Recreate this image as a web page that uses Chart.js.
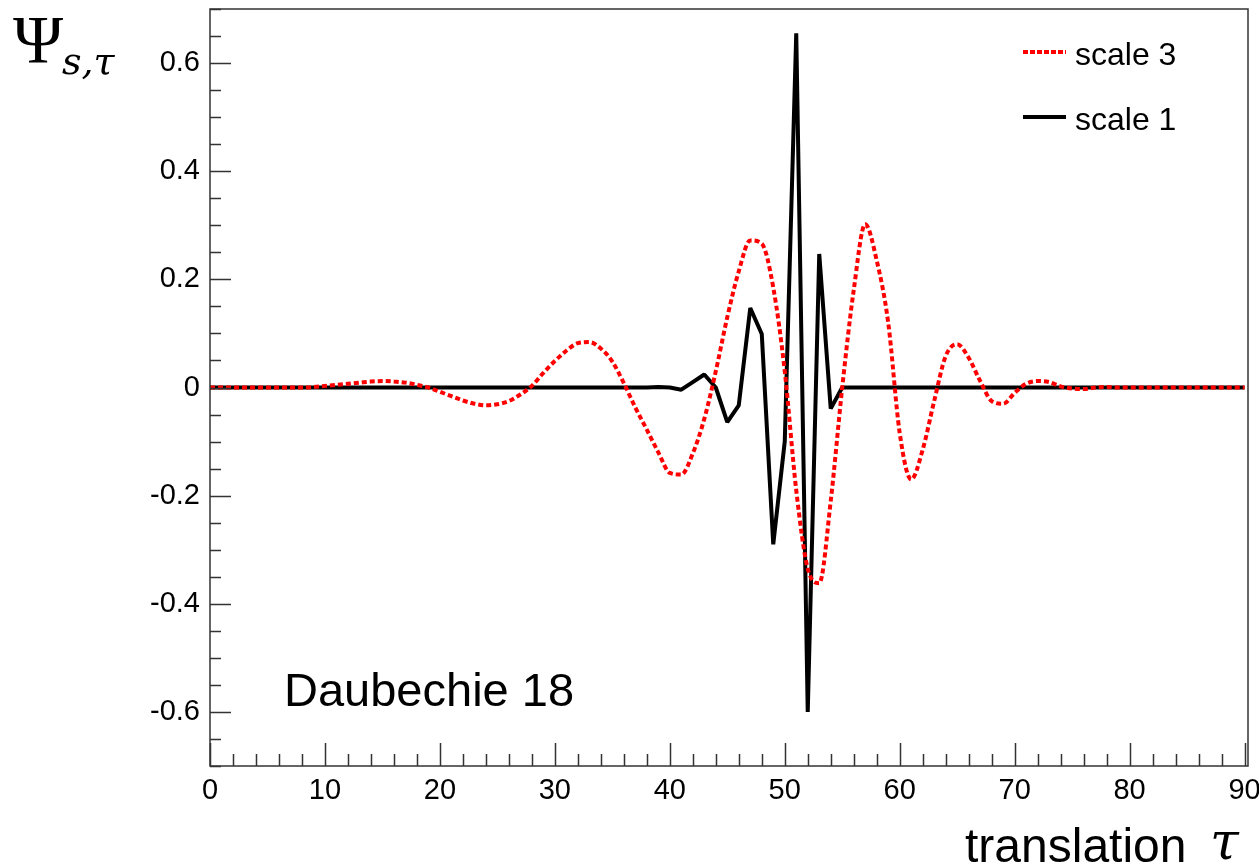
<!DOCTYPE html>
<html>
<head>
<meta charset="utf-8">
<script src="https://cdn.jsdelivr.net/npm/chart.js@4.4.0/dist/chart.umd.min.js"></script>
<style>
  body { margin: 0; background: #fff; }
  #wrap { position: relative; width: 1259px; height: 867px; }
  .t { position: absolute; line-height: 1; white-space: nowrap; color: #000; }
  .sans { font-family: "Liberation Sans", Arial, Helvetica, sans-serif; }
  .serif { font-family: "Liberation Serif", "DejaVu Serif", serif; }
  .dserif { font-family: "DejaVu Serif", serif; font-style: italic; }
  .key { position: absolute; height: 4px; width: 43px; }
</style>
</head>
<body>
<div id="wrap">
  <canvas id="chart" width="1259" height="867"></canvas>
  <div class="t serif" style="left:13px;top:5px;font-size:68px;">Ψ</div>
  <div class="t dserif" style="left:62px;top:42px;font-size:38px;">s,τ</div>
  <div class="t sans" style="left:284px;top:666px;font-size:47px;">Daubechie 18</div>
  <div class="t sans" style="left:965px;top:822px;font-size:48px;">translation</div>
  <div class="t dserif" style="left:1210px;top:815px;font-size:52px;">τ</div>
  <div class="key" style="left:1023px;top:50px;background:repeating-linear-gradient(to right,#f00 0 5px,transparent 5px 7px);"></div>
  <div class="t sans" style="left:1075px;top:38px;font-size:32px;">scale 3</div>
  <div class="key" style="left:1023px;top:115px;background:#000;"></div>
  <div class="t sans" style="left:1075px;top:103px;font-size:32px;">scale 1</div>
</div>
<script>
// translation tau (integer steps) and the two wavelet curves
const tau = Array.from({ length: 91 }, (_, i) => i);

const scale3 = [
  0, 0, 0, 0, 0, 0, 0, 0, 0, 0.001,
  0.003, 0.005, 0.007, 0.009, 0.011, 0.012, 0.011, 0.009, 0.005, 0.0,
  -0.008, -0.016, -0.024, -0.030, -0.033, -0.031, -0.025, -0.013, 0.003, 0.027,
  0.049, 0.068, 0.082, 0.084, 0.072, 0.048, 0.008, -0.037, -0.078, -0.12,
  -0.158, -0.161, -0.122, -0.058, 0.03, 0.13, 0.215, 0.272, 0.266, 0.185,
  0.03, -0.19, -0.335, -0.362, -0.21, 0.0, 0.18, 0.302, 0.235, 0.12,
  -0.084, -0.17, -0.115, -0.025, 0.058, 0.08, 0.055, 0.012, -0.025, -0.03,
  -0.01, 0.007, 0.012, 0.01, 0.002, -0.002, -0.003, 0.0, 0.001, 0.0,
  0, 0, 0, 0, 0, 0, 0, 0, 0, 0,
  0
];

const scale1 = [
  0, 0, 0, 0, 0, 0, 0, 0, 0, 0,
  0, 0, 0, 0, 0, 0, 0, 0, 0, 0,
  0, 0, 0, 0, 0, 0, 0, 0, 0, 0,
  0, 0, 0, 0, 0, 0, 0, 0, 0, 0.001,
  0.0, -0.004, 0.01, 0.024, 0.0, -0.064, -0.033, 0.147, 0.099, -0.29,
  -0.1, 0.655, -0.6, 0.247, -0.039, 0, 0, 0, 0, 0,
  0, 0, 0, 0, 0, 0, 0, 0, 0, 0,
  0, 0, 0, 0, 0, 0, 0, 0, 0, 0,
  0, 0, 0, 0, 0, 0, 0, 0, 0, 0,
  0
];

const xTicks = [0, 10, 20, 30, 40, 50, 60, 70, 80, 90];
const yTicks = [-0.6, -0.4, -0.2, 0, 0.2, 0.4, 0.6];

// frame box plus inward major/minor ticks like the original plot
const frameTicks = {
  id: "frameTicks",
  afterDraw(chart) {
    const { ctx, chartArea: a, scales } = chart;
    const x = scales.x, y = scales.y;
    ctx.save();
    ctx.strokeStyle = "#333";
    ctx.lineWidth = 1.5;
    ctx.strokeRect(a.left, a.top, a.right - a.left, a.bottom - a.top);
    ctx.beginPath();
    for (let v = 0; v <= 90; v += 2) {
      const px = Math.round(x.getPixelForValue(v)) + 0.5;
      const len = v % 10 === 0 ? 23 : 12;
      ctx.moveTo(px, a.bottom);
      ctx.lineTo(px, a.bottom - len);
    }
    for (let i = -14; i <= 14; i++) {
      const py = Math.round(y.getPixelForValue(i * 0.05)) + 0.5;
      const len = i % 4 === 0 ? 21 : 11;
      ctx.moveTo(a.left, py);
      ctx.lineTo(a.left + len, py);
    }
    ctx.stroke();
    ctx.restore();
  }
};

const tickFont = { family: "'Liberation Sans', Arial, sans-serif", size: 29 };

function noPad(s) {
  s.paddingTop = 0;
  s.paddingBottom = 0;
  s.paddingLeft = 0;
  s.paddingRight = 0;
}

new Chart(document.getElementById("chart"), {
  type: "line",
  data: {
    datasets: [
      {
        label: "scale 3",
        data: tau.map((t, i) => ({ x: t, y: scale3[i] })),
        borderColor: "#ff0000",
        borderWidth: 4,
        borderDash: [5, 3],
        pointRadius: 0,
        cubicInterpolationMode: "monotone",
        fill: false
      },
      {
        label: "scale 1",
        data: tau.map((t, i) => ({ x: t, y: scale1[i] })),
        borderColor: "#000000",
        borderWidth: 4,
        borderJoinStyle: "bevel",
        pointRadius: 0,
        tension: 0,
        fill: false
      }
    ]
  },
  options: {
    responsive: false,
    animation: false,
    layout: { padding: { top: 9, right: 11, left: 0, bottom: 0 } },
    plugins: { legend: { display: false }, tooltip: { enabled: false } },
    scales: {
      x: {
        type: "linear",
        min: 0,
        max: 90.3,
        grid: { display: false, drawTicks: false },
        border: { display: false },
        afterBuildTicks: (s) => { s.ticks = xTicks.map((v) => ({ value: v })); },
        afterFit: (s) => { s.height = 101; noPad(s); },
        ticks: { font: tickFont, color: "#000", padding: 8, maxRotation: 0, callback: (v) => String(v) }
      },
      y: {
        type: "linear",
        min: -0.7,
        max: 0.7,
        grid: { display: false, drawTicks: false },
        border: { display: false },
        afterBuildTicks: (s) => { s.ticks = yTicks.map((v) => ({ value: v })); },
        afterFit: (s) => { s.width = 210; noPad(s); },
        ticks: { font: tickFont, color: "#000", padding: 10, callback: (v) => (v === 0 ? "0" : v.toFixed(1)) }
      }
    }
  },
  plugins: [frameTicks]
});
</script>
</body>
</html>
